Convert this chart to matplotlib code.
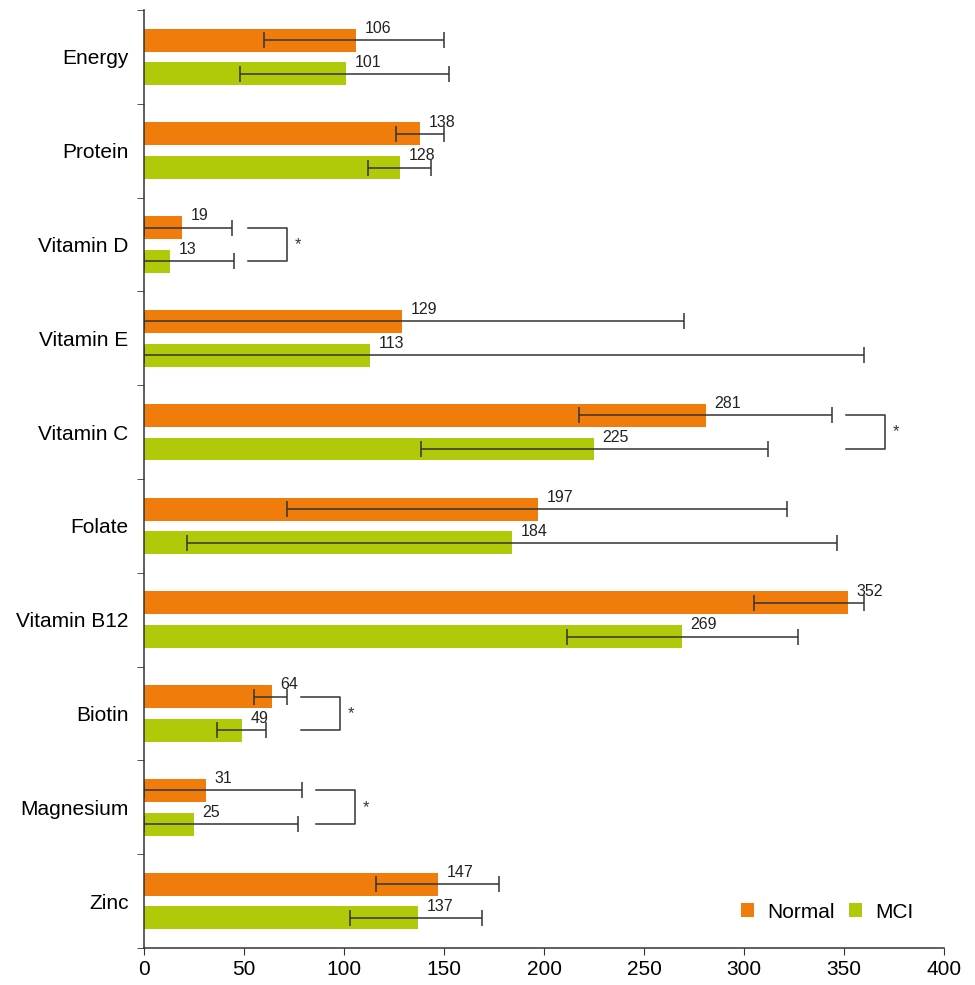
import matplotlib.pyplot as plt
import numpy as np

plt.rcParams['font.family'] = ['Liberation Sans', 'DejaVu Sans']

# nutrient intake (% of reference)
nutrients = ['Energy', 'Protein', 'Vitamin D', 'Vitamin E', 'Vitamin C',
             'Folate', 'Vitamin B12', 'Biotin', 'Magnesium', 'Zinc']
normal = [106, 138, 19, 129, 281, 197, 352, 64, 31, 147]
mci = [101, 128, 13, 113, 225, 184, 269, 49, 25, 137]

# error bar ends (low, high)
normal_lo = [60, 126, 0, 0, 217.5, 71.5, 305, 55, 0, 116]
normal_hi = [150, 150, 44, 270, 344, 321.5, 360, 71.5, 79, 177.5]
mci_lo = [48, 112, 0, 0, 138.5, 21.5, 211.5, 36.5, 0, 103]
mci_hi = [152.5, 143.5, 45, 360, 312, 346.5, 327, 61, 77, 169]

# nutrients with a significant difference
significant = ['Vitamin D', 'Vitamin C', 'Biotin', 'Magnesium']

orange = '#F07D0B'
green = '#B0CA0A'
dark = '#333333'

fig = plt.figure(figsize=(9.75, 9.85), dpi=100)
ax = fig.add_axes([0.1477, 0.0376, 0.8205, 0.9522])

y = np.arange(len(nutrients))
off = 0.18
h = 0.245

normal = np.array(normal)
mci = np.array(mci)
n_err = [normal - np.array(normal_lo), np.array(normal_hi) - normal]
m_err = [mci - np.array(mci_lo), np.array(mci_hi) - mci]

ax.barh(y - off, normal, height=h, color=orange, label='Normal')
ax.barh(y + off, mci, height=h, color=green, label='MCI')
ax.errorbar(normal, y - off, xerr=n_err, fmt='none', ecolor=dark,
            elinewidth=1.1, capsize=6, capthick=1.1)
ax.errorbar(mci, y + off, xerr=m_err, fmt='none', ecolor=dark,
            elinewidth=1.1, capsize=6, capthick=1.1)

# value labels
for i in range(len(nutrients)):
    ax.annotate(str(normal[i]), (normal[i], y[i] - off), xytext=(6, 3),
                textcoords='offset points', ha='left', va='bottom',
                fontsize=11.5, color='#222222')
    ax.annotate(str(mci[i]), (mci[i], y[i] + off), xytext=(6, 3),
                textcoords='offset points', ha='left', va='bottom',
                fontsize=11.5, color='#222222')

# significance brackets
for name in significant:
    i = nutrients.index(name)
    x0 = max(normal_hi[i], mci_hi[i]) + 7
    x1 = x0 + 19.5
    ax.plot([x0, x1, x1, x0], [y[i] - off, y[i] - off, y[i] + off, y[i] + off],
            color=dark, lw=1.1)
    ax.text(x1 + 4, y[i], '*', ha='left', va='center', fontsize=12, color=dark)

ax.set_xlim(0, 400)
ax.set_ylim(len(nutrients) - 0.5, -0.5)
ax.set_xticks(np.arange(0, 401, 50))
ax.set_yticks(y)
ax.set_yticklabels(nutrients)
ax.set_yticks(np.arange(-0.5, len(nutrients) + 0.5, 1), minor=True)
ax.tick_params(axis='y', which='major', length=0, pad=11, labelsize=15)
ax.tick_params(axis='y', which='minor', length=5, color=dark)
ax.tick_params(axis='x', length=5, color=dark, labelsize=15, pad=4)

for s in ['top', 'right']:
    ax.spines[s].set_visible(False)
for s in ['left', 'bottom']:
    ax.spines[s].set_color(dark)
    ax.spines[s].set_linewidth(1.1)

ax.legend(loc='lower right', bbox_to_anchor=(0.985, 0.008), ncol=2,
          frameon=False, fontsize=15, handlelength=0.65, handleheight=0.65,
          columnspacing=0.7, handletextpad=0.6)

fig.savefig('out.png', dpi=100)
